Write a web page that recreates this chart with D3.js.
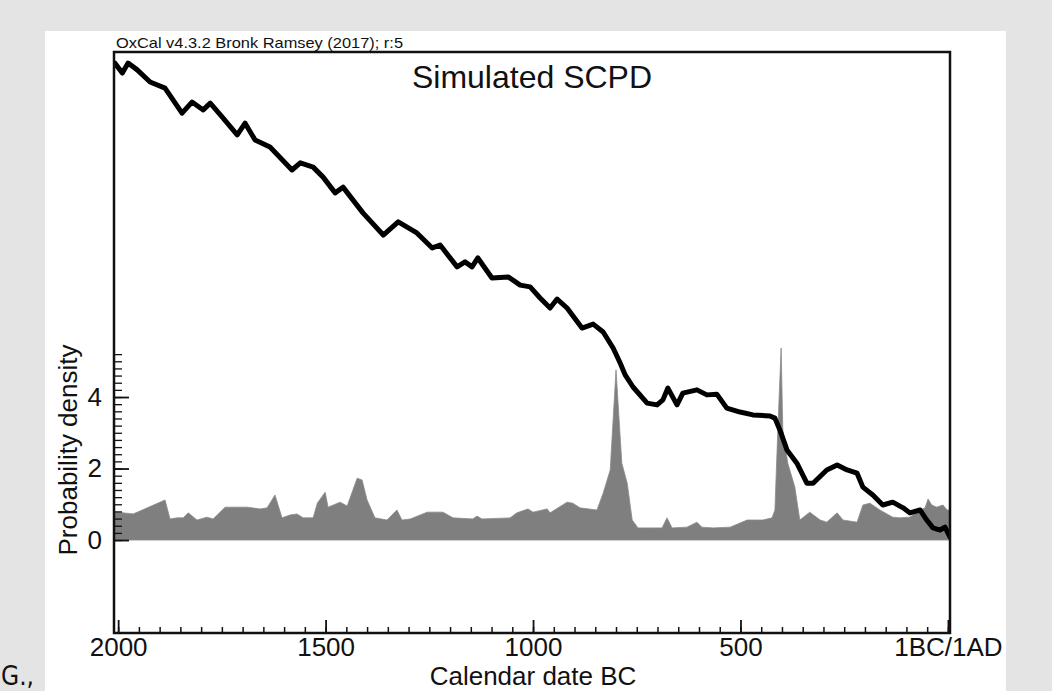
<!DOCTYPE html>
<html>
<head>
<meta charset="utf-8">
<script src="https://cdn.jsdelivr.net/npm/d3@7"></script>
<style>
  html, body { margin: 0; padding: 0; background: #e4e4e4; }
  svg { display: block; }
  text { font-family: "Liberation Sans", Arial, sans-serif; fill: #111; }
</style>
</head>
<body>
<svg id="chart" width="1052" height="691"></svg>
<script>
// Simulated SCPD (black band), calendar years BC and relative height in density units
const scpdYears = [2008, 1990, 1976, 1954, 1923, 1887, 1846, 1822, 1795, 1778, 1749, 1713, 1694, 1670, 1634,
  1581, 1561, 1530, 1506, 1477, 1458, 1410, 1361, 1325, 1280, 1243, 1224, 1183, 1164, 1147, 1133, 1099,
  1060, 1031, 1007, 983, 959, 942, 918, 882, 855, 831, 807, 790, 778, 759, 725, 701, 687, 675, 653, 639,
  605, 581, 557, 533, 501, 470, 429, 417, 405, 388, 364, 340, 325, 292, 267, 243, 219, 205, 181, 157,
  133, 108, 92, 67, 51, 36, 19, 7, -5];
const scpdValues = [13.34, 13.06, 13.34, 13.15, 12.81, 12.64, 11.94, 12.25, 12.03, 12.22, 11.83, 11.33, 11.66,
  11.19, 10.99, 10.35, 10.55, 10.43, 10.15, 9.71, 9.87, 9.15, 8.53, 8.90, 8.59, 8.17, 8.25, 7.64, 7.78,
  7.64, 7.89, 7.33, 7.36, 7.13, 7.08, 6.77, 6.49, 6.74, 6.49, 5.93, 6.04, 5.82, 5.37, 4.95, 4.62, 4.28,
  3.83, 3.78, 3.92, 4.25, 3.78, 4.11, 4.20, 4.06, 4.08, 3.69, 3.58, 3.50, 3.47, 3.41, 3.08, 2.52, 2.15,
  1.59, 1.59, 1.96, 2.10, 1.96, 1.87, 1.48, 1.26, 0.98, 1.06, 0.90, 0.76, 0.84, 0.56, 0.34, 0.28, 0.36, 0.08];

// Probability density (grey area)
const densityYears = [2010, 2002, 1964, 1930, 1887, 1875, 1858, 1843, 1831, 1810, 1786, 1771, 1742, 1689, 1658,
  1641, 1622, 1605, 1586, 1569, 1554, 1530, 1520, 1501, 1494, 1465, 1448, 1424, 1412, 1400, 1381, 1352,
  1328, 1316, 1296, 1255, 1217, 1193, 1145, 1135, 1123, 1055, 1039, 1012, 1000, 966, 959, 918, 904, 887,
  846, 831, 814, 800, 786, 773, 761, 747, 725, 689, 677, 665, 629, 605, 593, 566, 525, 484, 446, 424,
  417, 410, 402, 398, 386, 369, 357, 333, 308, 292, 267, 253, 219, 205, 188, 164, 133, 116, 92, 67, 55,
  48, 39, 27, 12, 2, -5];
const densityValues = [0.78, 0.78, 0.73, 0.90, 1.12, 0.59, 0.62, 0.62, 0.76, 0.56, 0.64, 0.59, 0.92, 0.92, 0.87,
  0.90, 1.26, 0.62, 0.70, 0.73, 0.62, 0.62, 1.03, 1.34, 0.92, 1.06, 0.95, 1.73, 1.68, 1.12, 0.62, 0.56,
  0.84, 0.56, 0.59, 0.78, 0.78, 0.62, 0.59, 0.67, 0.59, 0.62, 0.76, 0.87, 0.78, 0.87, 0.76, 1.06, 1.03, 0.90,
  0.84, 1.31, 1.96, 4.76, 2.15, 1.59, 0.56, 0.34, 0.34, 0.34, 0.62, 0.34, 0.36, 0.50, 0.36, 0.34, 0.36, 0.56,
  0.56, 0.62, 0.84, 3.08, 5.37, 3.08, 2.15, 1.48, 0.56, 0.78, 0.56, 0.50, 0.76, 0.56, 0.50, 0.98, 1.03,
  0.84, 0.64, 0.62, 0.64, 0.84, 0.90, 1.15, 0.98, 0.92, 0.98, 0.84, 0.84];

const xMajorTicks = [2000, 1500, 1000, 500, 0];
const yMajorTicks = [0, 2, 4];

const svg = d3.select("#chart");

// white page panel
svg.append("rect").attr("x", 45).attr("y", 31).attr("width", 961).attr("height", 660).attr("fill", "#fff");

const plotLeft = 114, plotRight = 950, plotTop = 52, plotBottom = 633;
const x = d3.scaleLinear().domain([2010, -5]).range([plotLeft, plotRight]);
const y = d3.scaleLinear().domain([-2.6, 13.65]).range([plotBottom, plotTop]);

svg.append("clipPath").attr("id", "plotclip")
  .append("rect").attr("x", plotLeft).attr("y", plotTop)
  .attr("width", plotRight - plotLeft).attr("height", plotBottom - plotTop);

const plot = svg.append("g").attr("clip-path", "url(#plotclip)");

const density = densityYears.map((d, i) => ({ year: d, v: densityValues[i] }));
const scpd = scpdYears.map((d, i) => ({ year: d, v: scpdValues[i] }));

plot.append("path")
  .datum(density)
  .attr("fill", "#7f7f7f")
  .attr("stroke", "#8a8a8a")
  .attr("stroke-width", 0.8)
  .attr("d", d3.area().x(d => x(d.year)).y0(y(0)).y1(d => y(d.v)));

plot.append("path")
  .datum(scpd)
  .attr("fill", "none")
  .attr("stroke", "#000")
  .attr("stroke-width", 5)
  .attr("stroke-linejoin", "round")
  .attr("stroke-linecap", "round")
  .attr("d", d3.line().x(d => x(d.year)).y(d => y(d.v)));

// x axis, ticks pointing inward
const xMinor = d3.range(2000, -1, -50);
svg.append("g")
  .attr("transform", `translate(0,${plotBottom})`)
  .call(d3.axisBottom(x).tickValues(xMinor).tickSizeInner(-6).tickSizeOuter(0).tickFormat(""))
  .call(g => g.select(".domain").remove())
  .call(g => g.selectAll("line").attr("stroke", "#111").attr("stroke-width", 1.5));

svg.append("g")
  .attr("transform", `translate(0,${plotBottom})`)
  .call(d3.axisBottom(x).tickValues(xMajorTicks).tickSizeInner(-13).tickSizeOuter(0).tickPadding(5)
    .tickFormat(d => d === 0 ? "1BC/1AD" : d))
  .call(g => g.select(".domain").remove())
  .call(g => g.selectAll("line").attr("stroke", "#111").attr("stroke-width", 1.8))
  .call(g => g.selectAll("text").attr("font-size", 26).attr("fill", "#111")
    .style("font-family", "'Liberation Sans', Arial, sans-serif"));

// y axis
const yMinor = d3.range(0, 5.21, 0.2);
svg.append("g")
  .attr("transform", `translate(${plotLeft},0)`)
  .call(d3.axisLeft(y).tickValues(yMinor).tickSizeInner(-8).tickSizeOuter(0).tickFormat(""))
  .call(g => g.select(".domain").remove())
  .call(g => g.selectAll("line").attr("stroke", "#111").attr("stroke-width", 1.3));

svg.append("g")
  .attr("transform", `translate(${plotLeft},0)`)
  .call(d3.axisLeft(y).tickValues(yMajorTicks).tickSizeInner(-15).tickSizeOuter(0).tickPadding(12))
  .call(g => g.select(".domain").remove())
  .call(g => g.selectAll("line").attr("stroke", "#111").attr("stroke-width", 1.8))
  .call(g => g.selectAll("text").attr("font-size", 26).attr("fill", "#111")
    .style("font-family", "'Liberation Sans', Arial, sans-serif"));

// frame
svg.append("rect")
  .attr("x", plotLeft).attr("y", plotTop)
  .attr("width", plotRight - plotLeft).attr("height", plotBottom - plotTop)
  .attr("fill", "none").attr("stroke", "#111").attr("stroke-width", 2.5);

// texts
svg.append("text").attr("x", 116).attr("y", 48).attr("font-size", 15)
  .attr("textLength", 287).attr("lengthAdjust", "spacingAndGlyphs")
  .text("OxCal v4.3.2 Bronk Ramsey (2017); r:5");

svg.append("text").attr("x", 532).attr("y", 88).attr("text-anchor", "middle")
  .attr("font-size", 32).text("Simulated SCPD");

svg.append("text").attr("x", 533).attr("y", 685).attr("text-anchor", "middle")
  .attr("font-size", 26).text("Calendar date BC");

svg.append("text").attr("transform", "translate(77,450) rotate(-90)")
  .attr("text-anchor", "middle").attr("font-size", 26).text("Probability density");

svg.append("text").attr("x", 1).attr("y", 685)
  .style("font-family", "'DejaVu Sans Condensed', 'DejaVu Sans', sans-serif")
  .style("font-stretch", "condensed")
  .attr("font-size", 26).attr("fill", "#222").text("G.,");
</script>
</body>
</html>
